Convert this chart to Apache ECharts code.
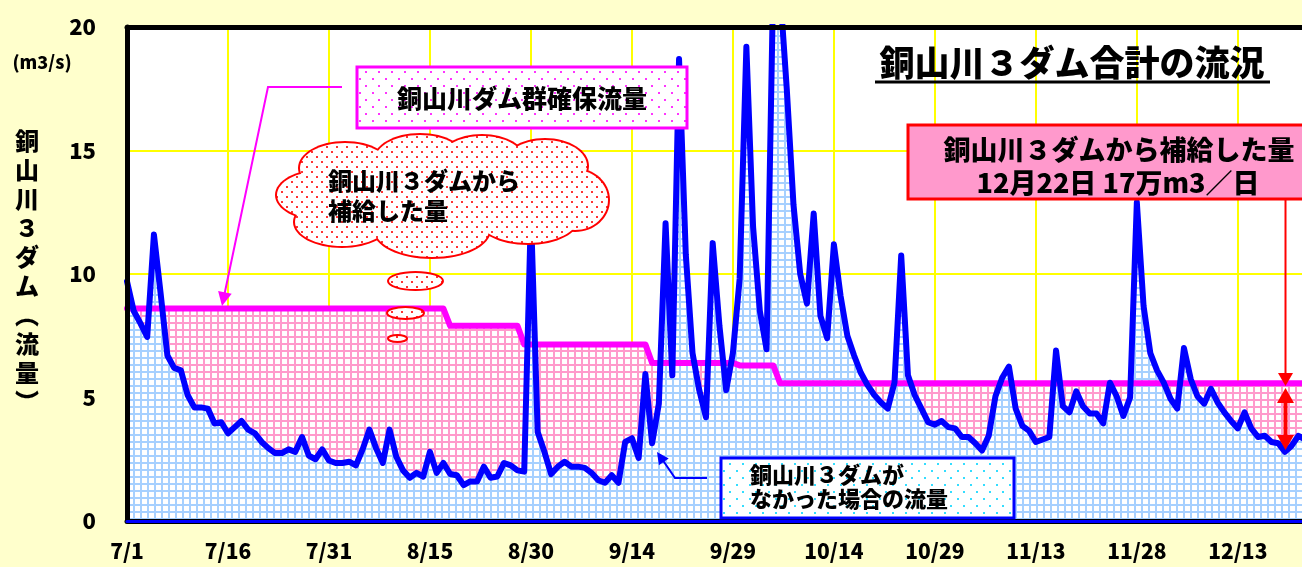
<!DOCTYPE html>
<html>
<head>
<meta charset="utf-8">
<script src="https://cdn.jsdelivr.net/npm/echarts@6/dist/echarts.min.js"></script>
<style>
  html, body { margin: 0; padding: 0; background: #ffffcc; }
  #chart { width: 1302px; height: 567px; }
</style>
</head>
<body>
<div id="chart"></div>
<script>
// 7/1 から 12/31 までの日付
const months = [[7, 31], [8, 31], [9, 30], [10, 31], [11, 30], [12, 31]]
const days = []
months.forEach(([m, n]) => {
  for (let d = 1; d <= n; d++) days.push(m + '/' + d)
})

// 銅山川３ダムがなかった場合の流量 (m3/s)
const naturalFlow = [
  9.7, 8.5, 8.0, 7.45, 11.6, 9.2, 6.7, 6.2, 6.1, 5.1,
  4.6, 4.6, 4.55, 3.95, 4.0, 3.55, 3.8, 4.05, 3.7, 3.55,
  3.2, 2.95, 2.75, 2.75, 2.9, 2.8, 3.4, 2.65, 2.5, 2.9,
  2.45, 2.35, 2.35, 2.4, 2.25, 2.9, 3.7, 2.95, 2.35, 3.7,
  2.6, 2.05, 1.75, 1.95, 1.8, 2.8, 1.95, 2.35, 1.9, 1.85,
  1.45, 1.6, 1.6, 2.2, 1.75, 1.8, 2.35, 2.25, 2.05, 2.0,
  12.5, 3.6, 2.8, 1.9, 2.2, 2.4, 2.2, 2.2, 2.15, 1.95,
  1.65, 1.55, 1.85, 1.55, 3.2, 3.35, 2.55, 5.95, 3.15, 4.75,
  12.05, 5.9, 18.7, 10.8, 6.8, 5.3, 4.2, 11.25, 7.9, 5.3,
  6.8, 9.8, 19.2, 11.9, 8.5, 6.95, 22, 21.5, 17.5, 12.8,
  10.0, 8.8, 12.45, 8.3, 7.4, 11.2, 9.1, 7.5, 6.7, 6.0,
  5.5, 5.1, 4.8, 4.55, 5.6, 10.75, 5.9, 5.1, 4.55, 4.0,
  3.9, 4.05, 3.8, 3.75, 3.4, 3.4, 3.15, 2.85, 3.45, 5.05,
  5.8, 6.25, 4.55, 3.85, 3.65, 3.2, 3.3, 3.4, 6.9, 4.65,
  4.4, 5.25, 4.65, 4.35, 4.35, 3.95, 5.6, 5.05, 4.25, 5.0,
  12.9, 8.7, 6.8, 6.1, 5.6, 4.95, 4.55, 7.0, 5.75, 5.05,
  4.75, 5.35, 4.8, 4.4, 4.05, 3.75, 4.4, 3.75, 3.4, 3.45,
  3.2, 3.15, 2.8, 3.05, 3.45, 3.3
]

// 銅山川ダム群確保流量 (m3/s)
const securedFlow = [
  8.6, 8.6, 8.6, 8.6, 8.6, 8.6, 8.6, 8.6, 8.6, 8.6,
  8.6, 8.6, 8.6, 8.6, 8.6, 8.6, 8.6, 8.6, 8.6, 8.6,
  8.6, 8.6, 8.6, 8.6, 8.6, 8.6, 8.6, 8.6, 8.6, 8.6,
  8.6, 8.6, 8.6, 8.6, 8.6, 8.6, 8.6, 8.6, 8.6, 8.6,
  8.6, 8.6, 8.6, 8.6, 8.6, 8.6, 8.6, 8.6, 7.9, 7.9,
  7.9, 7.9, 7.9, 7.9, 7.9, 7.9, 7.9, 7.9, 7.9, 7.15,
  7.15, 7.15, 7.15, 7.15, 7.15, 7.15, 7.15, 7.15, 7.15, 7.15,
  7.15, 7.15, 7.15, 7.15, 7.15, 7.15, 7.15, 7.15, 6.4, 6.4,
  6.4, 6.4, 6.4, 6.4, 6.4, 6.4, 6.4, 6.4, 6.4, 6.4,
  6.4, 6.3, 6.3, 6.3, 6.3, 6.3, 6.3, 5.58, 5.58, 5.58,
  5.58, 5.58, 5.58, 5.58, 5.58, 5.58, 5.58, 5.58, 5.58, 5.58,
  5.58, 5.58, 5.58, 5.58, 5.58, 5.58, 5.58, 5.58, 5.58, 5.58,
  5.58, 5.58, 5.58, 5.58, 5.58, 5.58, 5.58, 5.58, 5.58, 5.58,
  5.58, 5.58, 5.58, 5.58, 5.58, 5.58, 5.58, 5.58, 5.58, 5.58,
  5.58, 5.58, 5.58, 5.58, 5.58, 5.58, 5.58, 5.58, 5.58, 5.58,
  5.58, 5.58, 5.58, 5.58, 5.58, 5.58, 5.58, 5.58, 5.58, 5.58,
  5.58, 5.58, 5.58, 5.58, 5.58, 5.58, 5.58, 5.58, 5.58, 5.58,
  5.58, 5.58, 5.58, 5.58, 5.58, 5.58
]

const FONT = "'Noto Sans CJK JP', sans-serif"
const YELLOW = '#ffff00'

// 格子模様
function gridPattern(color) {
  const c = document.createElement('canvas')
  c.width = 7
  c.height = 7
  const g = c.getContext('2d')
  g.fillStyle = '#ffffff'
  g.fillRect(0, 0, 7, 7)
  g.fillStyle = color
  g.fillRect(0, 0, 7, 2)
  g.fillRect(0, 0, 2, 7)
  return { image: c, repeat: 'repeat' }
}

// 水玉模様
function dotPattern(color, w, h) {
  const c = document.createElement('canvas')
  c.width = w
  c.height = h
  const g = c.getContext('2d')
  g.fillStyle = '#ffffff'
  g.fillRect(0, 0, w, h)
  g.fillStyle = color
  g.fillRect(1, 1, 2, 2)
  g.fillRect(Math.round(w / 2) + 1, Math.round(h / 2) + 1, 2, 2)
  return { image: c, repeat: 'repeat' }
}

const pinkGrid = gridPattern('#ff9acc')
const blueGrid = gridPattern('#a6d0ff')
const magentaDots = dotPattern('#ff33ff', 13, 14)
const redDots = dotPattern('#ff3333', 10, 10)
const cyanDots = dotPattern('#33ddff', 13, 14)

// 雲
const cloudParts = [
  [345, 168, 45, 25], [420, 160, 45, 25], [482, 160, 42, 24], [545, 166, 42, 26],
  [575, 200, 33, 30], [322, 195, 45, 24], [342, 222, 47, 24], [432, 230, 57, 27],
  [528, 218, 50, 25], [440, 195, 110, 40]
]
const bubbles = [[415.5, 281, 27.5, 9], [405.5, 313, 18.5, 6], [397.5, 338.5, 9.5, 3.5]]

const graphics = []
cloudParts.forEach(([cx, cy, rx, ry]) => {
  graphics.push({ type: 'ellipse', shape: { cx, cy, rx: rx + 2, ry: ry + 2 }, style: { fill: '#ff0000' }, z: 20 })
})
cloudParts.forEach(([cx, cy, rx, ry]) => {
  graphics.push({ type: 'ellipse', shape: { cx, cy, rx, ry }, style: { fill: redDots }, z: 21 })
})
bubbles.forEach(([cx, cy, rx, ry]) => {
  graphics.push({ type: 'ellipse', shape: { cx, cy, rx, ry }, style: { fill: redDots, stroke: '#ff0000', lineWidth: 2 }, z: 21 })
})

graphics.push(
  // 縦軸タイトル
  { type: 'text', x: 27, y: 126, z: 30,
    style: { text: '銅\n山\n川\n３\nダ\nム\n︵\n流\n量\n︶', font: '900 24px ' + FONT, fill: '#000', align: 'center', lineHeight: 29 } },
  { type: 'text', x: 42, y: 62, z: 30,
    style: { text: '(m3/s)', font: '900 18px ' + FONT, fill: '#000', align: 'center', verticalAlign: 'middle' } },
  // 表題
  { type: 'text', x: 1072, y: 63, z: 30,
    style: { text: '銅山川３ダム合計の流況', font: '900 35px ' + FONT, fill: '#000', align: 'center', verticalAlign: 'middle' } },
  { type: 'line', shape: { x1: 875, y1: 82, x2: 1270, y2: 82 }, style: { stroke: '#000', lineWidth: 3 }, z: 30 },
  // 確保流量の吹き出し
  { type: 'rect', shape: { x: 357, y: 67, width: 330, height: 61 }, style: { fill: magentaDots, stroke: '#ff00ff', lineWidth: 3 }, z: 30 },
  { type: 'text', x: 522, y: 98, z: 31,
    style: { text: '銅山川ダム群確保流量', font: '900 25px ' + FONT, fill: '#000', align: 'center', verticalAlign: 'middle' } },
  { type: 'polyline', shape: { points: [[342, 87], [268, 87], [224.5, 294]] }, style: { stroke: '#ff00ff', lineWidth: 2, fill: null }, z: 30 },
  { type: 'polygon', shape: { points: [[222, 306], [231.7, 293.7], [218.1, 290.9]] }, style: { fill: '#ff00ff' }, z: 30 },
  // 雲の文字
  { type: 'text', x: 328, y: 181, z: 31,
    style: { text: '銅山川３ダムから', font: '900 24px ' + FONT, fill: '#000', verticalAlign: 'middle' } },
  { type: 'text', x: 328, y: 211, z: 31,
    style: { text: '補給した量', font: '900 24px ' + FONT, fill: '#000', verticalAlign: 'middle' } },
  // 補給量の箱
  { type: 'rect', shape: { x: 908, y: 125, width: 420, height: 74 }, style: { fill: '#ff99cc', stroke: '#ff0000', lineWidth: 3 }, z: 30 },
  { type: 'text', x: 1119, y: 150, z: 31,
    style: { text: '銅山川３ダムから補給した量', font: '900 27px ' + FONT, fill: '#000', align: 'center', verticalAlign: 'middle' } },
  { type: 'text', x: 1118, y: 183, z: 31,
    style: { text: '12月22日 17万m3／日', font: '900 27px ' + FONT, fill: '#000', align: 'center', verticalAlign: 'middle' } },
  { type: 'line', shape: { x1: 1285.5, y1: 199, x2: 1285.5, y2: 376 }, style: { stroke: '#ff0000', lineWidth: 2 }, z: 30 },
  { type: 'polygon', shape: { points: [[1278, 373], [1293, 373], [1285.5, 386]] }, style: { fill: '#ff0000' }, z: 30 },
  { type: 'line', shape: { x1: 1285.5, y1: 398, x2: 1285.5, y2: 440 }, style: { stroke: '#ff0000', lineWidth: 4 }, z: 30 },
  { type: 'polygon', shape: { points: [[1277, 403], [1294, 403], [1285.5, 388]] }, style: { fill: '#ff0000' }, z: 30 },
  { type: 'polygon', shape: { points: [[1277, 435], [1294, 435], [1285.5, 450]] }, style: { fill: '#ff0000' }, z: 30 },
  // なかった場合の箱
  { type: 'rect', shape: { x: 721, y: 458, width: 293, height: 60 }, style: { fill: cyanDots, stroke: '#0000ff', lineWidth: 3 }, z: 30 },
  { type: 'text', x: 750, y: 475, z: 31,
    style: { text: '銅山川３ダムが', font: '900 22px ' + FONT, fill: '#000', verticalAlign: 'middle' } },
  { type: 'text', x: 750, y: 499, z: 31,
    style: { text: 'なかった場合の流量', font: '900 22px ' + FONT, fill: '#000', verticalAlign: 'middle' } },
  { type: 'polyline', shape: { points: [[707, 478], [675, 478], [662, 459]] }, style: { stroke: '#0000ff', lineWidth: 2, fill: null }, z: 30 },
  { type: 'polygon', shape: { points: [[657, 452], [668.7, 458.5], [658.9, 465.3]] }, style: { fill: '#0000ff' }, z: 30 }
)

const frameAxis = {
  type: 'category', data: days, boundaryGap: false,
  axisTick: { show: false }, axisLabel: { show: false }, splitLine: { show: false }, z: 10
}

const option = {
  backgroundColor: '#ffffcc',
  animation: false,
  grid: {
    left: 127, top: 27, width: 1232, height: 494,
    outerBoundsMode: 'none', containLabel: false,
    show: true, backgroundColor: '#ffffff', borderWidth: 0
  },
  xAxis: [
    {
      type: 'category', data: days, boundaryGap: false,
      axisLine: { show: false }, axisTick: { show: false },
      axisLabel: { interval: 14, showMinLabel: true, margin: 20, fontSize: 21, fontWeight: 900, fontFamily: FONT, color: '#000' },
      splitLine: { show: true, interval: 14, lineStyle: { color: YELLOW, width: 2 } }
    },
    Object.assign({}, frameAxis, { position: 'bottom', axisLine: { lineStyle: { color: '#000000', width: 5 } }, offset: 4 }),
    Object.assign({}, frameAxis, { position: 'bottom', axisLine: { lineStyle: { color: '#0000ff', width: 3 } } }),
    Object.assign({}, frameAxis, { position: 'top', axisLine: { lineStyle: { color: '#000000', width: 5 } } })
  ],
  yAxis: [
    {
      type: 'value', min: 0, max: 20, interval: 5,
      axisLine: { show: false }, axisTick: { show: false },
      axisLabel: { margin: 31, fontSize: 22, fontWeight: 900, fontFamily: FONT, color: '#000' },
      splitLine: { lineStyle: { color: YELLOW, width: 2 } }
    },
    {
      type: 'value', min: 0, max: 20, interval: 5, position: 'left',
      axisLine: { show: true, lineStyle: { color: '#000000', width: 5 } },
      axisTick: { show: false }, axisLabel: { show: false }, splitLine: { show: false }, z: 10
    }
  ],
  series: [
    {
      name: '確保流量の面', type: 'line', data: securedFlow, symbol: 'none', z: 1,
      lineStyle: { width: 0 }, areaStyle: { color: pinkGrid, opacity: 1 }
    },
    {
      name: 'なかった場合の面', type: 'line', data: naturalFlow, symbol: 'none', z: 2,
      lineStyle: { width: 0 }, areaStyle: { color: blueGrid, opacity: 1 }
    },
    {
      name: '銅山川ダム群確保流量', type: 'line', data: securedFlow, symbol: 'none', z: 3,
      lineStyle: { color: '#ff00ff', width: 6, join: 'round', cap: 'round' }
    },
    {
      name: '銅山川３ダムがなかった場合の流量', type: 'line', data: naturalFlow, symbol: 'none', z: 4,
      lineStyle: { color: '#0000ff', width: 6, join: 'round', cap: 'round' }
    }
  ],
  graphic: graphics
}

const chart = echarts.init(document.getElementById('chart'))
chart.setOption(option)
</script>
</body>
</html>
